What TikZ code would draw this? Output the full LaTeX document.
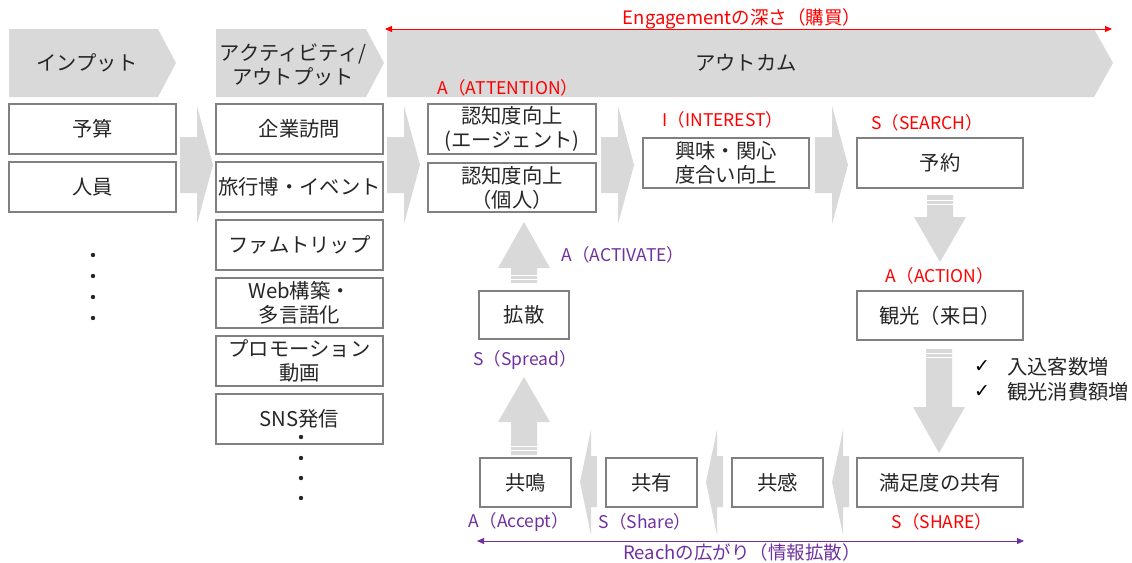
\documentclass[tikz,border=0pt]{standalone}
\usepackage{fontspec}
\setmainfont{Noto Sans CJK JP}
\newfontfamily\symfont{DejaVu Sans}
\usetikzlibrary{arrows.meta}
\definecolor{arrgray}{HTML}{D9D9D9}
\definecolor{boxline}{HTML}{808080}
\definecolor{txt}{HTML}{262626}
\definecolor{myred}{HTML}{FF0000}
\definecolor{mypurple}{HTML}{7030A0}
\newcommand\vblock[4]{\fill[arrgray] ({#1-13},#2) -- ({#1+13},#2) -- ({#1+13},#3) -- ({#1+26},#3) -- (#1,#4) -- ({#1-26},#3) -- ({#1-13},#3) -- cycle;}
\newcommand\bigfont{\fontsize{20.3}{24}\selectfont}
\newcommand\lblfont{\fontsize{17.5}{20}\selectfont}
\begin{document}
\begin{tikzpicture}[x=1pt,y=-1pt,
  box/.style={draw=boxline, line width=1.1pt, fill=white, inner sep=0pt, align=center, font=\bigfont, text=txt},
  wide/.style={minimum width=167pt, minimum height=50pt},
  narrow/.style={minimum width=91pt, minimum height=49pt},
  head/.style={font=\bigfont, text=txt, align=center},
  redlbl/.style={font=\lblfont, text=myred},
  purlbl/.style={font=\lblfont, text=mypurple},
  stripe/.style={white, line width=0.8pt}]
\useasboundingbox (0,0) rectangle (1132,562);

% header chevrons
\fill[arrgray] (9,29) -- (158,29) -- (176,63) -- (158,97) -- (9,97) -- cycle;
\fill[arrgray] (216,29) -- (366,29) -- (384,63) -- (366,97) -- (216,97) -- cycle;
\fill[arrgray] (387,29) -- (1094,29) -- (1113,63) -- (1094,97) -- (387,97) -- cycle;
\node[head] (hin) at (87,63) {インプット};
\node[head, inner sep=0pt] (hact) at (293,65) {アクティビティ/\\アウトプット};
\node[head] (hout) at (746,63) {アウトカム};

% engagement arrow
\coordinate (engL) at (385,29);
\coordinate (engR) at (1112,29);
\draw[myred, line width=1pt, {Triangle[length=7pt,width=6pt]}-{Triangle[length=7pt,width=6pt]}] (engL) -- (engR);
\node[redlbl, font=\fontsize{18.5}{20}\selectfont] (englbl) at (742,19) {Engagementの深さ（購買）};

% right-pointing block arrows between columns
\foreach \x in {180,387,601,815}{
  \fill[arrgray] (\x,137) -- ({\x+17},137) -- ({\x+17},106) -- ({\x+33},165) -- ({\x+17},224) -- ({\x+17},193) -- (\x,193) -- cycle;}

% input column
\node[box, wide] (yosan) at (92.5,129) {予算};
\node[box, wide] (jinin) at (92.5,187) {人員};
\foreach \y in {255,276,297,318}{\fill[txt] (93,\y) circle (2.2pt);}

% activity column
\node[box, wide] (kigyo) at (299.5,129) {企業訪問};
\node[box, wide] (ryoko) at (299.5,187) {旅行博・イベント};
\node[box, wide] (famtrip) at (299.5,245) {ファムトリップ};
\node[box, wide] (web) at (299.5,303) {Web構築・\\多言語化};
\node[box, wide] (promo) at (299.5,361) {プロモーション\\動画};
\node[box, wide] (sns) at (299.5,419) {SNS発信};
\foreach \y in {437,458,478,498}{\fill[txt] (301,\y) circle (2.2pt);}

% outcome
\node[redlbl] (lattn) at (508,88) {A（ATTENTION）};
\node[box, minimum width=168pt, minimum height=50pt] (ninchi1) at (512,129) {認知度向上\\(エージェント)};
\node[box, minimum width=168pt, minimum height=49pt] (ninchi2) at (512,187.5) {認知度向上\\（個人）};

\node[redlbl] (lint) at (723,120) {I（INTEREST）};
\node[box, minimum width=166pt, minimum height=50pt] (kyomi) at (726,163) {興味・関心\\度合い向上};

\node[redlbl] (lsearch) at (927,123) {S（SEARCH）};
\node[box, minimum width=166pt, minimum height=50pt] (yoyaku) at (940,163) {予約};

\vblock{940}{195}{217}{262}
\draw[stripe] (927,200) -- (953,200);
\draw[stripe] (927,204) -- (953,204);

\node[redlbl] (laction) at (940,276) {A（ACTION）};
\node[box, minimum width=166pt, minimum height=49pt] (kanko) at (940,315.5) {観光（来日）};

\vblock{939}{349}{407}{453}
\draw[stripe] (926,353) -- (952,353);
\draw[stripe] (926,357) -- (952,357);

\node[font=\symfont\fontsize{19}{20}\selectfont, text=black] (chk1) at (982,367) {✓};
\node[font=\symfont\fontsize{19}{20}\selectfont, text=black] (chk2) at (982,392) {✓};
\node[head, anchor=west, inner sep=0pt] (t1) at (1007,367) {入込客数増};
\node[head, anchor=west, inner sep=0pt] (t2) at (1007,392) {観光消費額増};

\node[box, minimum width=166pt, minimum height=49pt] (manzoku) at (940,482.5) {満足度の共有};
\node[box, narrow] (kyokan) at (777.5,482.5) {共感};
\node[box, narrow] (kyoyu) at (651.5,482.5) {共有};
\node[box, narrow] (kyomei) at (525.5,482.5) {共鳴};

% left-pointing block arrows
\foreach \x in {580,706,832}{
  \fill[arrgray] (\x,482) -- ({\x+11},430) -- ({\x+11},456) -- ({\x+17},456) -- ({\x+17},507) -- ({\x+11},507) -- ({\x+11},535) -- cycle;}

\node[redlbl] (lshare) at (942,522) {S（SHARE）};
\node[purlbl] (laccept) at (519,522) {A（Accept）};
\node[purlbl] (lshare2) at (645,522) {S（Share）};

% up arrows
\vblock{524}{455}{422}{377}
\draw[stripe] (511,446) -- (537,446);
\draw[stripe] (511,450) -- (537,450);
\node[purlbl] (lspread) at (525,360) {S（Spread）};
\node[box, minimum width=90pt, minimum height=48pt] (kakusan) at (524,315) {拡散};
\vblock{524}{283}{268}{222}
\draw[stripe] (511,275) -- (537,275);
\draw[stripe] (511,279) -- (537,279);
\node[purlbl] (lactivate) at (623,255) {A（ACTIVATE）};

% reach arrow
\coordinate (reachL) at (477,541);
\coordinate (reachR) at (1024,541);
\draw[mypurple, line width=1pt, {Triangle[length=7pt,width=6pt]}-{Triangle[length=7pt,width=6pt]}] (reachL) -- (reachR);
\node[font=\fontsize{18.5}{20}\selectfont, text=mypurple] (reach) at (742,552) {Reachの広がり（情報拡散）};
\end{tikzpicture}
\end{document}
